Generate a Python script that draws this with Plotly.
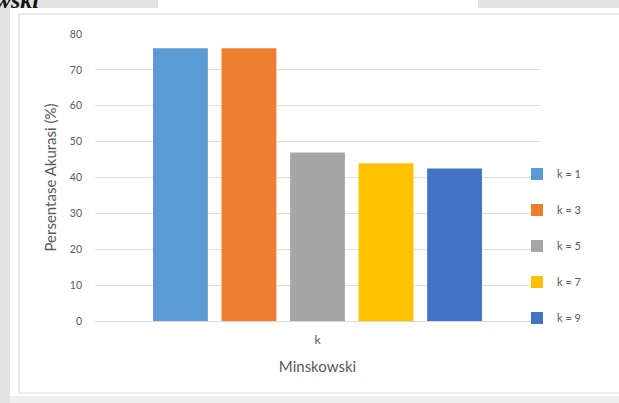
import plotly.graph_objects as go

# Accuracy (%) for the Minkowski distance at several k values
category = ["k"]
series_names = ["k = 1", "k = 3", "k = 5", "k = 7", "k = 9"]
accuracy = [76, 76, 47, 44, 42.5]
colors = ["#5B9BD5", "#ED7D31", "#A5A5A5", "#FFC000", "#4472C4"]
y_ticks = [0, 10, 20, 30, 40, 50, 60, 70, 80]

W, H = 619, 403
L, R, T, B = 95, 79, 34, 82
PW, PH = W - L - R, H - T - B


def px_x(x):
    return (x - L) / PW


def px_y(y):
    return (H - B - y) / PH


fig = go.Figure()
for name, val, col in zip(series_names, accuracy, colors):
    fig.add_trace(go.Bar(x=category, y=[val], name=name, marker_color=col,
                         marker_line_width=0, legendgroup=name))

text_col = "#595959"
font = "Lato, 'Open Sans', sans-serif"

shapes = [
    # page background around the chart panel
    dict(type="rect", xref="paper", yref="paper", x0=px_x(-5), x1=px_x(10),
         y0=px_y(H + 5), y1=px_y(-5), fillcolor="#e2e2e2", line_width=0, layer="below"),
    dict(type="rect", xref="paper", yref="paper", x0=px_x(-5), x1=px_x(158),
         y0=px_y(8), y1=px_y(-5), fillcolor="#e2e2e2", line_width=0, layer="below"),
    dict(type="rect", xref="paper", yref="paper", x0=px_x(478), x1=px_x(W + 5),
         y0=px_y(8), y1=px_y(-5), fillcolor="#e2e2e2", line_width=0, layer="below"),
    dict(type="rect", xref="paper", yref="paper", x0=px_x(10), x1=px_x(W + 5),
         y0=px_y(H + 5), y1=px_y(396), fillcolor="#efefef", line_width=0, layer="below"),
    # chart area border
    dict(type="rect", xref="paper", yref="paper", x0=px_x(19), x1=px_x(W + 20),
         y0=px_y(393), y1=px_y(14), fillcolor="rgba(0,0,0,0)",
         line=dict(color="#d9d9d9", width=1.2), layer="below"),
]

fig.update_layout(
    width=W, height=H,
    margin=dict(l=L, r=R, t=T, b=B, autoexpand=False),
    paper_bgcolor="white", plot_bgcolor="white",
    barmode="group", bargap=0.23, bargroupgap=0.2,
    font=dict(family=font, color=text_col, size=10),
    shapes=shapes,
    showlegend=True,
    legend=dict(x=px_x(517), xanchor="left", y=px_y(246), yanchor="middle",
                font=dict(size=11, color=text_col), tracegroupgap=17,
                bgcolor="rgba(0,0,0,0)"),
    annotations=[
        dict(text="<b><i>wski</i></b>", xref="paper", yref="paper",
             x=px_x(-7), y=px_y(0), xanchor="left", yanchor="middle",
             showarrow=False, font=dict(family="Liberation Serif", size=24, color="#111111")),
    ],
)

fig.update_yaxes(range=[0, 80], tickvals=y_ticks, showgrid=True, gridcolor="#dedede",
                 gridwidth=1, zeroline=True, zerolinecolor="#d9d9d9", zerolinewidth=1,
                 showline=False, ticks="", ticklabelstandoff=12,
                 tickfont=dict(size=10.5, color=text_col),
                 title=dict(text="Persentase Akurasi (%)", standoff=9,
                            font=dict(size=15, color=text_col)))
fig.update_xaxes(showline=False, ticks="", ticklabelstandoff=10,
                 tickfont=dict(size=12, color=text_col),
                 title=dict(text="Minskowski", standoff=15,
                            font=dict(size=15, color=text_col)))

fig.write_html("out.html")
